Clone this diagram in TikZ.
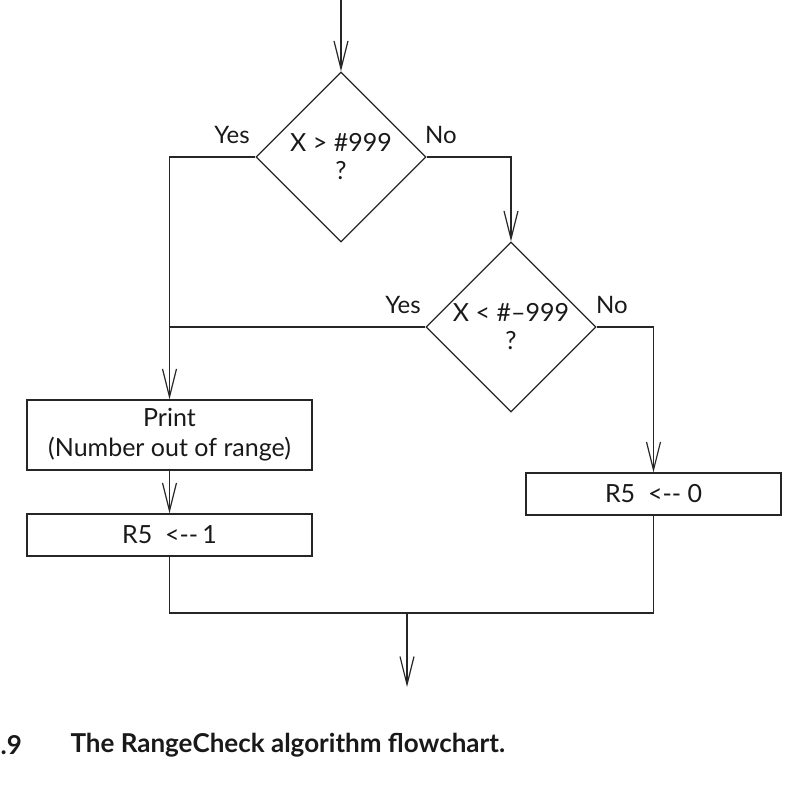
\documentclass[tikz,border=0pt]{standalone}
\usepackage{fontspec}
\setmainfont{Lato}
\usetikzlibrary{shapes.geometric,arrows.meta}
\begin{document}
\begin{tikzpicture}[x=1pt,y=-1pt,
  line width=1.2pt, draw=black!85, text=black!90,
  flow/.style={-{Straight Barb[length=28pt,width=14pt,line width=1.2pt]}},
  dec/.style={diamond, draw, minimum width=170pt, minimum height=170pt, inner sep=0pt, align=center, font=\fontsize{25}{28}\selectfont},
  proc/.style={rectangle, draw, inner sep=0pt, align=center, font=\fontsize{25}{30}\selectfont},
  lbl/.style={font=\fontsize{24}{26}\selectfont, inner sep=0pt},
  captxt/.style={font=\bfseries\fontsize{26}{28}\selectfont, inner sep=0pt, anchor=west}]
\useasboundingbox (0,0) rectangle (794,794);
\coordinate (start) at (341,0);
\node[dec] (d1) at (341,157) {X > \#999\\?};
\node[dec] (d2) at (511,327) {X < \#–999\\?};
\node[proc, minimum width=285pt, minimum height=70pt] (p) at (169.5,435) {Print\\(Number out of range)};
\node[proc, minimum width=285pt, minimum height=42pt] (r1) at (169.5,535) {R5\ \ <{-}{-}\,1};
\node[proc, minimum width=255pt, minimum height=42pt] (r0) at (653.5,494) {R5\ \ <{-}{-}\ 0};
\coordinate (m) at (407,613);
\coordinate (end) at (407,687);
\node[lbl] (y1) at (232,135) {Yes};
\node[lbl] (n1) at (441,135) {No};
\node[lbl] (y2) at (403,305) {Yes};
\node[lbl] (n2) at (612,305) {No};
\draw[flow] (start) -- (d1.north);
\draw[flow] (d1.west) -| (p.north);
\draw[flow] (d1.east) -| (d2.north);
\draw (d2.west) -- (d2.west -| p.north);
\draw[flow] (d2.east) -| (r0.north);
\draw[flow] (p.south) -- (r1.north);
\draw (r1.south) -- (r1.south |- m) -- (r0.south |- m) -- (r0.south);
\draw[flow] (m) -- (end);
\node[captxt] (c1) at (0,745) {.9};
\node[captxt] (c2) at (70,745) {The RangeCheck algorithm flowchart.};
\end{tikzpicture}
\end{document}
